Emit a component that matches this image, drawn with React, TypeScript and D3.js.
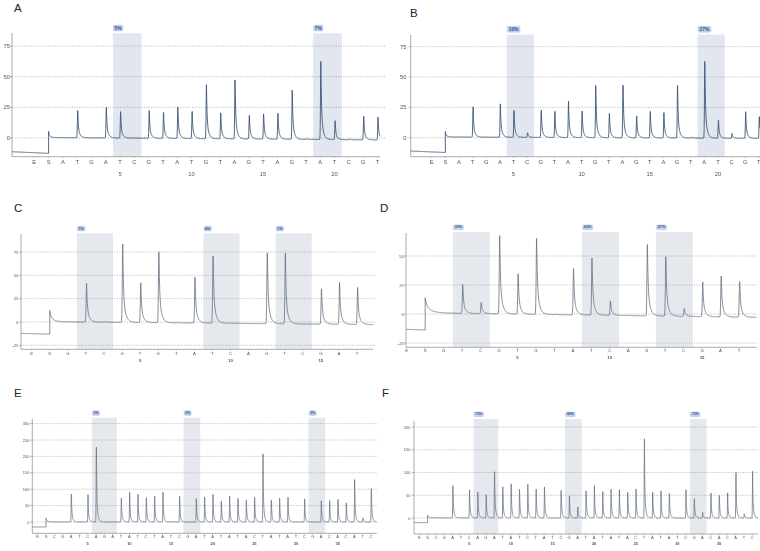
import React from "react";
import * as d3 from "d3";

// ---------------- DATA ----------------
const seqAB = "ESATGATCGTATGTAGTAGTATCGT".split("");
const seqCD = "ESGTCGTGTATCAGTCGAT".split("");
const seqEF = "ESCGATCAGATATCTATCGATATATACTATATCGACACATC".split("");

const heightsA = [0, 0, 0, 23, 0, 26, 22, 0.5, 23, 22, 26, 23, 45, 22, 49, 20, 21, 22, 41, 0.8, 65, 16, 0.8, 20, 19];
const heightsB = [0, 0, 0, 25, 0, 28, 23, 4, 24, 22, 30, 22, 44, 21, 47, 19, 22, 21, 44, 1, 67, 16, 4, 22, 18];
const heightsC = [0, 0, 0, 42, 0.5, 84, 43, 80, 0.5, 50, 76, 0.5, 0, 79, 76, 0, 39, 45, 41];
const heightsD = [0, 0, 0, 25, 10, 69, 35, 67, 0.5, 40, 50, 13, 0.5, 62, 53, 7, 30, 36, 32];
const heightsE = [0, 0, 0, 0, 100, 0, 84, 268, 0, 1, 85, 95, 85, 87, 82, 92, 2, 82, 0, 85, 79, 85, 75, 82, 73, 80, 78, 212, 79, 75, 77, 0, 73, 0, 77, 68, 71, 69, 134, 13, 121];
const heightsF = [0, 0, 0, 0, 81, 0, 68, 62, 51, 119, 71, 78, 72, 75, 70, 74, 0, 71, 50, 25, 68, 72, 64, 68, 62, 66, 66, 181, 65, 60, 60, 0, 62, 50, 13, 57, 57, 56, 111, 10, 103];

// baseline: [level before S at start, level before S at S, S spike height, level after S, level at end]
const baseA = [-11.2, -12.5, 5, 0.4, -1.6];
const baseB = [-11.0, -12.2, 4.5, 0.6, -0.6];
const baseC = [-12.2, -13.0, 12, 0.3, -2.8];
const baseD = [-13.2, -13.8, 13, 1.0, -2.9];
const baseE = [-15.2, -15.2, 11, 0.3, 0.0];
const baseF = [-10.3, -10.3, 6, 0.3, 0.0];

const ticksA = [0, 25, 50, 75];
const ticksB = [0, 25, 50, 75];
const ticksC = [-25, 0, 25, 50, 75];
const ticksD = [-25, 0, 25, 50];
const ticksE = [0, 50, 100, 150, 200, 250, 300];
const ticksF = [0, 50, 100, 150, 200];

const numbersAB = [5, 10, 15, 20];
const numbersCD = [5, 10, 15];
const numbersEF = [5, 10, 15, 20, 25, 30, 35];

// highlighted dispensations: [first index, last index]
const regionsA = [[6, 7], [20, 21]];
const regionsB = [[6, 7], [20, 21]];
const regionsC = [[3, 4], [10, 11], [14, 15]];
const regionsD = [[3, 4], [10, 11], [14, 15]];
const regionsE = [[7, 9], [18, 19], [33, 34]];
const regionsF = [[7, 9], [18, 19], [33, 34]];

const labelsA = ["5%", "7%"];
const labelsB = ["10%", "27%"];
const labelsC = ["1%", "4%", "1%"];
const labelsD = ["33%", "63%", "27%"];
const labelsE = ["2%", "2%", "2%"];
const labelsF = ["72%", "69%", "73%"];

// ---------------- LAYOUT ----------------
type Layout = {
  letter: string; lx: number; ly: number;
  axisX: number; rightX: number; gridRight: number;
  ex: number; step: number;
  y0: number; ppu: number; top: number; bottom: number; hlTop: number;
  tickLabelX: number; letterY: number; numY: number;
  fs: number; lineColor: string; lineW: number; hlFill: string;
  sTau: number; boxH: number;
};

const layoutA: Layout = { letter: "A", lx: 14, ly: 12, axisX: 12, rightX: 380, gridRight: 385, ex: 34.3, step: 14.3, y0: 138, ppu: 1.2267, top: 33, bottom: 156.7, hlTop: 33.3, tickLabelX: 10, letterY: 164, numY: 175.5, fs: 5.8, lineColor: "#3e5579", lineW: 0.9, hlFill: "#e2e7ef", sTau: 0.12, boxH: 5.8 };
const layoutB: Layout = { letter: "B", lx: 410, ly: 17, axisX: 410.7, rightX: 760, gridRight: 760, ex: 431.7, step: 13.63, y0: 137.7, ppu: 1.2133, top: 35, bottom: 156.7, hlTop: 34.5, tickLabelX: 406.5, letterY: 164, numY: 175.5, fs: 5.8, lineColor: "#3e5579", lineW: 0.9, hlFill: "#e2e7ef", sTau: 0.12, boxH: 5.8 };
const layoutC: Layout = { letter: "C", lx: 14, ly: 212, axisX: 21, rightX: 373.3, gridRight: 375, ex: 31.7, step: 18.07, y0: 322, ppu: 0.9333, top: 234, bottom: 349.3, hlTop: 233.3, tickLabelX: 18.5, letterY: 355.3, numY: 361.8, fs: 4.3, lineColor: "#667184", lineW: 0.8, hlFill: "#e5e9ee", sTau: 0.2, boxH: 4.8 };
const layoutD: Layout = { letter: "D", lx: 380, ly: 212, axisX: 406, rightX: 756.7, gridRight: 757, ex: 406.7, step: 18.46, y0: 314, ppu: 1.16, top: 233, bottom: 347.3, hlTop: 232, tickLabelX: 404, letterY: 351.8, numY: 359.3, fs: 4.3, lineColor: "#667184", lineW: 0.8, hlFill: "#e5e9ee", sTau: 0.3, boxH: 4.8 };
const layoutE: Layout = { letter: "E", lx: 14, ly: 397, axisX: 32.3, rightX: 376.7, gridRight: 377, ex: 37.7, step: 8.333, y0: 522, ppu: 0.328, top: 419, bottom: 533.3, hlTop: 417.7, tickLabelX: 29.5, letterY: 538, numY: 544.5, fs: 4, lineColor: "#667184", lineW: 0.75, hlFill: "#e5e9ee", sTau: 0.2, boxH: 4.6 };
const layoutF: Layout = { letter: "F", lx: 382, ly: 397, axisX: 414, rightX: 758.3, gridRight: 758, ex: 419.3, step: 8.325, y0: 518, ppu: 0.455, top: 420.7, bottom: 534, hlTop: 419, tickLabelX: 410.5, letterY: 538.7, numY: 544.5, fs: 4, lineColor: "#667184", lineW: 0.75, hlFill: "#e5e9ee", sTau: 0.2, boxH: 4.6 };

function shape(t: number): number {
  if (t < 0) return Math.exp(-Math.pow(t / 0.035, 2));
  return 0.6 * Math.exp(-t / 0.035) + 0.4 * Math.exp(-t / 0.13);
}

type PanelProps = {
  L: Layout; seq: string[]; heights: number[]; base: number[];
  ticks: number[]; numbers: number[]; regions: number[][]; labels: string[];
};

function Panel({ L, seq, heights, base, ticks, numbers, regions, labels }: PanelProps) {
  const uMin = (L.axisX - L.ex) / L.step;
  const uMax = (L.rightX - L.ex) / L.step;
  const x = d3.scaleLinear().domain([0, 1]).range([L.ex, L.ex + L.step]);
  const vTop = (L.y0 - L.top) / L.ppu;
  const vBot = (L.y0 - L.bottom) / L.ppu;
  const y = d3.scaleLinear().domain([vBot, vTop]).range([L.bottom, L.top]);

  const sIdx = 1;
  const du = 0.2 / L.step;
  const pts: [number, number][] = [];
  const peakSum = (u: number) => {
    let s = 0;
    heights.forEach((h, i) => {
      if (h > 0 && i > 1) {
        const t = u - (i + 0.04);
        if (t > -0.3 && t < 1.5) s += h * shape(t);
      }
    });
    return s;
  };
  const valueAt = (u: number) => {
    if (u < sIdx) {
      return base[0] + (base[1] - base[0]) * (u - uMin) / (sIdx - uMin) + peakSum(u);
    }
    const t = u - sIdx;
    const drift = base[3] + (base[4] - base[3]) * t / (uMax - sIdx);
    const spike = base[2] * (0.5 * Math.exp(-t / (L.sTau * 0.3)) + 0.5 * Math.exp(-t / L.sTau));
    return drift + spike + peakSum(u);
  };
  for (let u = uMin; u < sIdx; u += du) pts.push([u, valueAt(u)]);
  pts.push([sIdx - 0.0001, base[1]]);
  for (let u = sIdx; u <= uMax; u += du) pts.push([u, valueAt(u)]);

  const line = d3.line<[number, number]>().x(d => x(d[0])).y(d => y(d[1]));
  const font = "'Liberation Sans', Arial, sans-serif";

  return (
    <g>
      <text x={L.lx} y={L.ly} fontSize={11.5} fontFamily={font} fill="#222">{L.letter}</text>
      {regions.map((r, k) => {
        const x0 = x(r[0] - 0.5);
        const x1 = x(r[1] + 0.5);
        const lab = labels[k];
        const bw = lab.length * L.fs * 0.6 + 2.4;
        return (
          <g key={"r" + k}>
            <rect x={x0} y={L.hlTop} width={x1 - x0} height={L.bottom - L.hlTop} fill={L.hlFill} />
            <rect x={x0 + 0.5} y={L.hlTop - L.boxH - 2.3} width={bw} height={L.boxH} rx={1.2} fill="#c3d2ee" stroke="#a3b8e0" strokeWidth={0.4} />
            <text x={x0 + 0.5 + bw / 2} y={L.hlTop - 2.3 - L.boxH / 2} fontSize={L.fs * 0.85} fontFamily={font} fontWeight="bold" fill="#34508a" textAnchor="middle" dominantBaseline="central">{lab}</text>
          </g>
        );
      })}
      {ticks.map(t => (
        <g key={"t" + t}>
          <line x1={L.axisX} x2={L.gridRight} y1={y(t)} y2={y(t)} stroke="#8c8c8c" strokeWidth={0.6} strokeDasharray="1 1.4" />
          <line x1={L.axisX - 2} x2={L.axisX} y1={y(t)} y2={y(t)} stroke="#888" strokeWidth={0.6} />
        </g>
      ))}
      <line x1={L.axisX} x2={L.axisX} y1={L.top} y2={L.bottom} stroke="#888" strokeWidth={0.7} />
      <line x1={L.axisX} x2={L.rightX} y1={L.bottom} y2={L.bottom} stroke="#888" strokeWidth={0.7} />
      {seq.map((s, i) => (
        <line key={"k" + i} x1={x(i)} x2={x(i)} y1={L.bottom} y2={L.bottom + 1.5} stroke="#999" strokeWidth={0.5} />
      ))}
      <g filter="url(#gray)">
        {ticks.map(t => (
          <text key={"tl" + t} x={L.tickLabelX} y={y(t)} fontSize={L.fs} fontFamily={font} fill="#555" textAnchor="end" dominantBaseline="central">{t}</text>
        ))}
        {seq.map((s, i) => (
          <text key={"s" + i} x={x(i)} y={L.letterY} fontSize={L.fs} fontFamily={font} fill="#555" textAnchor="middle">{s}</text>
        ))}
        {numbers.map(n => (
          <text key={"n" + n} x={x(n + 1)} y={L.numY} fontSize={L.fs} fontFamily={font} fontWeight={L.fs < 5 ? "bold" : "normal"} fill="#555" textAnchor="middle">{n}</text>
        ))}
      </g>
      <path d={line(pts) || ""} fill="none" stroke={L.lineColor} strokeWidth={L.lineW} strokeLinejoin="round" />
    </g>
  );
}

export default function App() {
  return (
    <svg width={760} height={551} style={{ position: "absolute", left: 0, top: 0, background: "#fff" }}>
      <defs>
        <filter id="gray" x="0" y="0" width="760" height="551" filterUnits="userSpaceOnUse">
          <feColorMatrix type="saturate" values="0" />
        </filter>
      </defs>
      <rect width={760} height={551} fill="#fff" />
      <Panel L={layoutA} seq={seqAB} heights={heightsA} base={baseA} ticks={ticksA} numbers={numbersAB} regions={regionsA} labels={labelsA} />
      <Panel L={layoutB} seq={seqAB} heights={heightsB} base={baseB} ticks={ticksB} numbers={numbersAB} regions={regionsB} labels={labelsB} />
      <Panel L={layoutC} seq={seqCD} heights={heightsC} base={baseC} ticks={ticksC} numbers={numbersCD} regions={regionsC} labels={labelsC} />
      <Panel L={layoutD} seq={seqCD} heights={heightsD} base={baseD} ticks={ticksD} numbers={numbersCD} regions={regionsD} labels={labelsD} />
      <Panel L={layoutE} seq={seqEF} heights={heightsE} base={baseE} ticks={ticksE} numbers={numbersEF} regions={regionsE} labels={labelsE} />
      <Panel L={layoutF} seq={seqEF} heights={heightsF} base={baseF} ticks={ticksF} numbers={numbersEF} regions={regionsF} labels={labelsF} />
    </svg>
  );
}
